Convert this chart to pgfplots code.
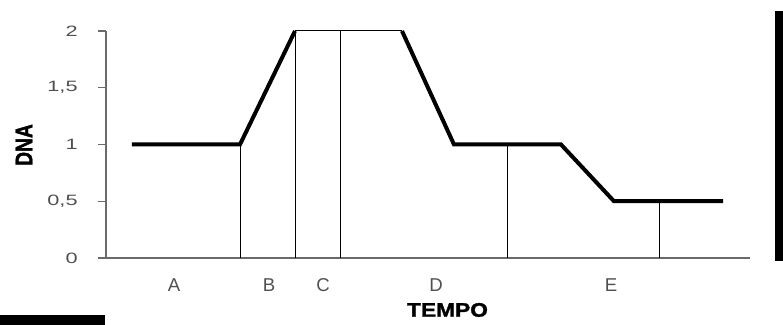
\documentclass[border=0pt]{standalone}
\usepackage{pgfplots}
\pgfplotsset{compat=1.18}
\usepackage{fontspec}
\setmainfont{Liberation Sans}
\newfontfamily\tickfont[FakeStretch=1.45]{Liberation Sans}
\newfontfamily\dnafont[FakeStretch=0.8, BoldFeatures={FakeBold=1.5}]{Liberation Sans}
\newfontfamily\tempofont[FakeStretch=1.16, BoldFeatures={FakeBold=1.5}]{Liberation Sans}
\definecolor{axisgray}{HTML}{6A6A6A}
\definecolor{labgray}{HTML}{505050}
\begin{document}
\begin{tikzpicture}
% 1 px of the reference = 0.5pt
\useasboundingbox (0,0) rectangle (391.5pt,162.5pt);
\fill[black] (387.5pt,32pt) rectangle (391.5pt,157pt);
\fill[black] (0,0) rectangle (52.5pt,5pt);
\node[font=\dnafont\fontsize{12}{14}\selectfont\bfseries, rotate=90, inner sep=0pt] at (12pt,90pt) {DNA};
\node[font=\tempofont\fontsize{9.8}{12}\selectfont\bfseries, inner sep=0pt] at (223.75pt,7.5pt) {TEMPO};
\begin{axis}[
    at={(53pt,33.5pt)}, anchor=south west,
    scale only axis,
    width=322pt, height=113.5pt,
    xmin=106, xmax=750,
    ymin=0, ymax=2,
    axis x line=bottom, axis y line=left,
    axis line style={draw=axisgray, line width=0.8pt, -},
    ytick={0,0.5,1,1.5,2},
    yticklabels={0,{0,5},1,{1,5},2},
    tick align=outside,
    major tick length=4pt,
    y tick style={draw=axisgray, line width=0.6pt},
    yticklabel style={font=\tickfont\fontsize{7.5}{9}\selectfont, text=labgray, anchor=east, inner sep=0pt, xshift=-10pt},
    xtick={174,269,323,436,611},
    xticklabels={A,B,C,D,E},
    x tick style={draw=none},
    xticklabel style={font=\fontsize{9.3}{11}\selectfont, text=labgray, anchor=north, inner sep=0pt, yshift=-6pt},
    clip=false,
]
% dividing lines between phases
\addplot[black, line width=0.5pt] coordinates {(240,0) (240,1)};
\addplot[black, line width=0.5pt] coordinates {(295,0) (295,2)};
\addplot[black, line width=0.5pt] coordinates {(340,0) (340,2)};
\addplot[black, line width=0.5pt] coordinates {(507,0) (507,1)};
\addplot[black, line width=0.5pt] coordinates {(659,0) (659,0.5)};
% DNA content
\addplot[black, line width=0.5pt] coordinates {(295,2) (402,2)};
\addplot[black, line width=2pt, line join=miter] coordinates {
    (132,1) (240,1) (295,2)
};
\addplot[black, line width=2pt, line join=miter] coordinates {
    (402,2) (454,1) (561,1) (614,0.5) (723,0.5)
};
\end{axis}
\end{tikzpicture}
\end{document}
